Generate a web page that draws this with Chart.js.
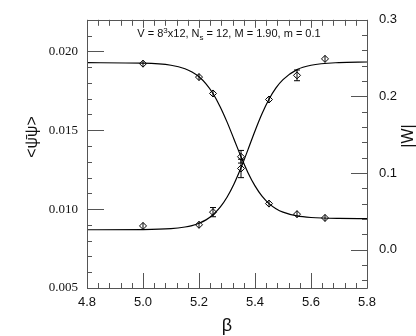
<!DOCTYPE html>
<html>
<head>
<meta charset="utf-8">
<script src="https://cdn.jsdelivr.net/npm/chart.js@4.4.0/dist/chart.umd.min.js"></script>
<style>
html, body { margin: 0; padding: 0; background: #fff; }
</style>
</head>
<body>
<canvas id="c" width="416" height="336"></canvas>
<script>
// measured points (beta, value, error)
var betaPts = [5.0, 5.2, 5.25, 5.35, 5.45, 5.55, 5.65];
var pbpValues = [0.01922, 0.01837, 0.01733, 0.01332, 0.01035, 0.00968, 0.00944];
var pbpErrors = [0.00006, 0.00006, 0.00008, 0.00040, 0.00006, 0.00006, 0.00006];
var wValues = [0.031, 0.0325, 0.049, 0.106, 0.196, 0.2275, 0.249];
var wErrors = [0.004, 0.003, 0.006, 0.012, 0.004, 0.007, 0.004];

// fit curves
var betaFit = [4.8, 5.0, 5.1, 5.15, 5.175, 5.2, 5.225, 5.25, 5.275, 5.3, 5.325, 5.35, 5.375, 5.4, 5.425, 5.45, 5.475, 5.5, 5.55, 5.6, 5.7, 5.8];
var pbpFit = [0.01928, 0.01925, 0.01912, 0.01890, 0.01869, 0.01839, 0.01794, 0.01733, 0.01651, 0.01553, 0.01443, 0.01332, 0.01231, 0.01147, 0.01082, 0.01035, 0.01003, 0.00981, 0.00957, 0.00947, 0.00941, 0.00940];
var wFit = [0.0260, 0.0262, 0.0274, 0.0296, 0.0315, 0.0345, 0.0389, 0.0456, 0.0551, 0.0684, 0.0857, 0.1068, 0.1306, 0.1549, 0.1773, 0.1963, 0.2111, 0.2220, 0.2350, 0.2407, 0.2442, 0.2449];

// tick labels
var xTicks = [4.8, 5.0, 5.2, 5.4, 5.6, 5.8];
var yTicks = [0.005, 0.010, 0.015, 0.020];
var y1Ticks = [0.0, 0.1, 0.2, 0.3];

var SANS = '"Liberation Sans", Arial, sans-serif';
var SERIF = '"Liberation Serif", "Times New Roman", serif';

function toXY(xs, ys) {
    return xs.map(function (x, i) { return { x: x, y: ys[i] }; });
}

function drawErrors(ctx, sx, sc, ys, es) {
    for (var i = 0; i < betaPts.length; i++) {
        var px = sx.getPixelForValue(betaPts[i]);
        var py = sc.getPixelForValue(ys[i]);
        var up = py - sc.getPixelForValue(ys[i] + es[i]);
        var half = Math.max(up, 3.5);
        ctx.moveTo(px, py - half);
        ctx.lineTo(px, py + half);
        if (up > 4.5) {
            ctx.moveTo(px - 3, py - up); ctx.lineTo(px + 3, py - up);
            ctx.moveTo(px - 3, py + up); ctx.lineTo(px + 3, py + up);
        }
    }
}

/* ── frame, inward ticks, error bars, texts ── */
var plotDecor = {
    id: 'plotDecor',
    afterDatasetsDraw: function (chart) {
        var ctx = chart.ctx, a = chart.chartArea;
        var sx = chart.scales.x, sy = chart.scales.y, sw = chart.scales.y1;
        var k, v, p, major;
        ctx.save();

        ctx.strokeStyle = '#000';
        ctx.lineWidth = 1;
        ctx.beginPath();
        drawErrors(ctx, sx, sy, pbpValues, pbpErrors);
        drawErrors(ctx, sx, sw, wValues, wErrors);
        ctx.stroke();

        ctx.strokeStyle = '#555';
        ctx.beginPath();
        ctx.rect(Math.round(a.left) + 0.5, Math.round(a.top) + 0.5,
                 Math.round(a.right - a.left), Math.round(a.bottom - a.top));
        for (k = 0; k <= 25; k++) {
            v = 4.8 + k * 0.04;
            p = Math.round(sx.getPixelForValue(v)) + 0.5;
            major = k % 5 === 0;
            ctx.moveTo(p, a.bottom); ctx.lineTo(p, a.bottom - (major ? 15 : 5));
            ctx.moveTo(p, a.top); ctx.lineTo(p, a.top + (major ? 8 : 6));
        }
        for (k = 0; k <= 17; k++) {
            v = 0.005 + k * 0.001;
            p = Math.round(sy.getPixelForValue(v)) + 0.5;
            major = k % 5 === 0;
            ctx.moveTo(a.left, p); ctx.lineTo(a.left + (major ? 17 : 5), p);
        }
        for (k = 0; k <= 17; k++) {
            v = -0.04 + k * 0.02;
            p = Math.round(sw.getPixelForValue(v)) + 0.5;
            major = (k - 2) % 5 === 0;
            ctx.moveTo(a.right, p); ctx.lineTo(a.right - (major ? 16 : 5), p);
        }
        ctx.stroke();

        // run parameters
        ctx.fillStyle = '#111';
        ctx.textBaseline = 'alphabetic';
        ctx.textAlign = 'left';
        var parts = [
            ['V = 8', 0, 11], ['3', -4, 8], ['x12, N', 0, 11], ['s', 3, 8],
            [' = 12, M = 1.90, m = 0.1', 0, 11]
        ];
        var total = 0;
        parts.forEach(function (q) { ctx.font = q[2] + 'px ' + SANS; total += ctx.measureText(q[0]).width; });
        var tx = 229 - total / 2, ty = 37;
        parts.forEach(function (q) {
            ctx.font = q[2] + 'px ' + SANS;
            ctx.fillText(q[0], tx, ty + q[1]);
            tx += ctx.measureText(q[0]).width;
        });

        // axis titles
        ctx.textAlign = 'center';
        ctx.textBaseline = 'middle';
        ctx.font = '18px ' + SANS;
        ctx.fillText('\u03B2', (a.left + a.right) / 2, 326);
        ctx.font = '16px ' + SANS;
        ctx.save();
        ctx.translate(33, 137);
        ctx.rotate(-Math.PI / 2);
        ctx.fillText('<\u03C8\u0304\u03C8>', 0, 0);
        ctx.restore();
        ctx.save();
        ctx.translate(409, 136);
        ctx.rotate(-Math.PI / 2);
        ctx.fillText('|W|', 0, 0);
        ctx.restore();

        ctx.restore();
    }
};

var ctx = document.getElementById('c').getContext('2d');
new Chart(ctx, {
    type: 'scatter',
    data: {
        datasets: [
            {
                data: toXY(betaFit, pbpFit), yAxisID: 'y', showLine: true,
                borderColor: '#000', borderWidth: 1.2, pointRadius: 0,
                cubicInterpolationMode: 'monotone'
            },
            {
                data: toXY(betaFit, wFit), yAxisID: 'y1', showLine: true,
                borderColor: '#000', borderWidth: 1.2, pointRadius: 0,
                cubicInterpolationMode: 'monotone'
            },
            {
                data: toXY(betaPts, pbpValues), yAxisID: 'y',
                pointStyle: 'rectRot', pointRadius: 3.5, pointBorderWidth: 1,
                borderColor: '#000', backgroundColor: 'rgba(255,255,255,0)'
            },
            {
                data: toXY(betaPts, wValues), yAxisID: 'y1',
                pointStyle: 'rectRot', pointRadius: 3.5, pointBorderWidth: 1,
                borderColor: '#000', backgroundColor: 'rgba(255,255,255,0)'
            }
        ]
    },
    options: {
        responsive: false,
        animation: false,
        devicePixelRatio: 1,
        layout: { padding: { top: 8, left: 0, right: 0, bottom: 0 } },
        plugins: {
            legend: { display: false },
            tooltip: { enabled: false }
        },
        scales: {
            x: {
                type: 'linear', position: 'bottom', min: 4.8, max: 5.8,
                afterBuildTicks: function (s) { s.ticks = xTicks.map(function (v) { return { value: v }; }); },
                afterFit: function (s) { s.height = 48; },
                grid: { display: false, drawTicks: false },
                border: { display: false },
                ticks: {
                    autoSkip: false, maxRotation: 0, padding: 7, color: '#111',
                    font: { family: SANS, size: 13 },
                    callback: function (v) { return v.toFixed(1); }
                }
            },
            y: {
                type: 'linear', position: 'left', min: 0.005, max: 0.022,
                afterBuildTicks: function (s) { s.ticks = yTicks.map(function (v) { return { value: v }; }); },
                afterFit: function (s) { s.width = 87; },
                grid: { display: false, drawTicks: false },
                border: { display: false },
                ticks: {
                    padding: 9, color: '#111',
                    font: { family: SERIF, size: 13 },
                    callback: function (v) { return v.toFixed(3); }
                }
            },
            y1: {
                type: 'linear', position: 'right', min: -0.05, max: 0.3,
                afterBuildTicks: function (s) { s.ticks = y1Ticks.map(function (v) { return { value: v }; }); },
                afterFit: function (s) { s.width = 49; },
                grid: { display: false, drawTicks: false },
                border: { display: false },
                ticks: {
                    padding: 12, color: '#111',
                    font: { family: SANS, size: 13 },
                    callback: function (v) { return v.toFixed(1); }
                }
            }
        }
    },
    plugins: [plotDecor]
});
</script>
</body>
</html>
